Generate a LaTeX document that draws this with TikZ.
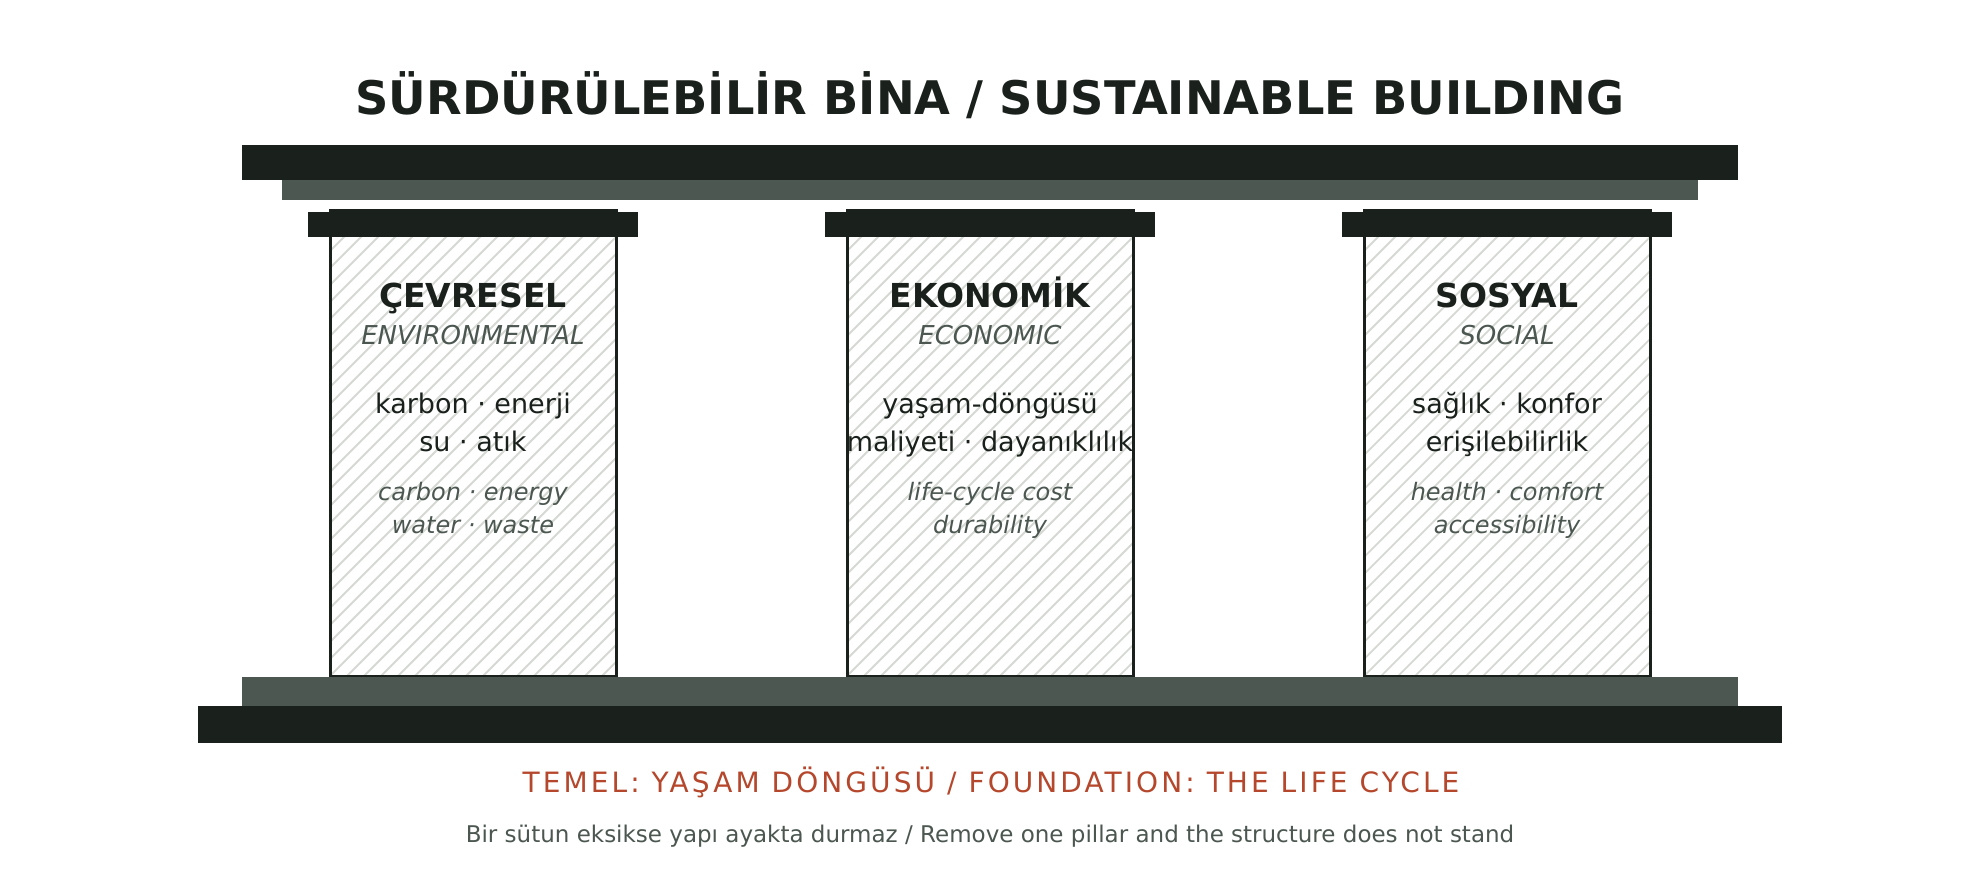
\documentclass[tikz,border=0pt]{standalone}
\usepackage{fontspec}
\setmainfont{DejaVu Sans}
\newfontfamily\spacedfont[LetterSpace=11]{DejaVu Sans}

\definecolor{ink}{HTML}{1A211C}
\definecolor{slate}{HTML}{4B5750}
\definecolor{rust}{HTML}{B5482C}
\definecolor{hatch}{HTML}{D6D9D3}

\tikzset{
	beam/.style={fill=ink},
	plinth/.style={fill=slate},
	shaft/.style={draw=ink, line width=3pt},
	hatchline/.style={draw=hatch, line width=1.8pt},
	headtxt/.style={anchor=base, inner sep=0pt, text=ink, font=\bfseries\fontsize{33}{40}\selectfont},
	subtxt/.style={anchor=base, inner sep=0pt, text=slate, font=\itshape\fontsize{26}{31}\selectfont},
	trtxt/.style={anchor=base, inner sep=0pt, text=ink, font=\fontsize{27}{32}\selectfont},
	entxt/.style={anchor=base, inner sep=0pt, text=slate, font=\itshape\fontsize{24}{29}\selectfont},
}

\begin{document}
\begin{tikzpicture}[x=1pt, y=-1pt]
	\fill[white] (0,0) rectangle (1980,880);
	\useasboundingbox (0,0) rectangle (1980,880);
	\node[anchor=base, inner sep=0pt, text=ink, font=\bfseries\fontsize{46.3}{55}\selectfont] (title) at (990,115) {SÜRDÜRÜLEBİLİR BİNA / SUSTAINABLE BUILDING};
	% roof
	\fill[beam] (242,145) rectangle (1738,180);
	\fill[plinth] (282,180) rectangle (1698,200);
	% pillars
	\foreach \x/\nm/\hd/\sb/\ta/\tb/\ea/\eb in {473/cev/ÇEVRESEL/ENVIRONMENTAL/karbon · enerji/su · atık/carbon · energy/water · waste, 990/eko/EKONOMİK/ECONOMIC/yaşam-döngüsü/maliyeti · dayanıklılık/life-cycle cost/durability, 1507/sos/SOSYAL/SOCIAL/sağlık · konfor/erişilebilirlik/health · comfort/accessibility}{
		\fill[white] (\x-143,210) rectangle (\x+143,676);
		\begin{scope}
			\clip (\x-143,210) rectangle (\x+143,676);
			\foreach \k in {-476,-459,...,300}
				\draw[hatchline] (\x+\k-143,676) -- ++(466,-466);
		\end{scope}
		\draw[shaft] (\x-143,210) rectangle (\x+143,676);
		\fill[beam] (\x-165,212) rectangle (\x+165,237);
		\node[headtxt] (\nm-head) at (\x,307) {\hd};
		\node[subtxt] (\nm-sub) at (\x,344) {\sb};
		\node[trtxt] (\nm-tra) at (\x,413) {\ta};
		\node[trtxt] (\nm-trb) at (\x,451) {\tb};
		\node[entxt] (\nm-ena) at (\x,500) {\ea};
		\node[entxt] (\nm-enb) at (\x,533) {\eb};
	}
	% foundation
	\fill[plinth] (242,677) rectangle (1738,706);
	\fill[beam] (198,706) rectangle (1782,743);
	\node[anchor=base, inner sep=0pt, text=rust, font=\spacedfont\fontsize{28}{34}\selectfont] (found) at (991,792) {TEMEL: YAŞAM DÖNGÜSÜ / FOUNDATION: THE LIFE CYCLE};
	\node[anchor=base, inner sep=0pt, text=slate, font=\fontsize{23}{28}\selectfont] (note) at (990,842) {Bir sütun eksikse yapı ayakta durmaz / Remove one pillar and the structure does not stand};
\end{tikzpicture}
\end{document}
